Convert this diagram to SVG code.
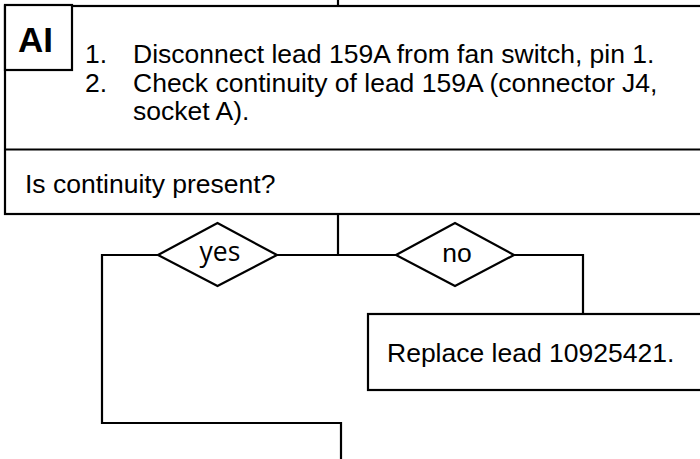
<svg xmlns="http://www.w3.org/2000/svg" width="700" height="459" viewBox="0 0 700 459">
<style>
.s{fill:none;stroke:#000;stroke-width:2.2}
.b{fill:#fff;stroke:#000;stroke-width:2.2}
.t{font-family:"Liberation Sans",Arial,sans-serif;font-size:26.5px;fill:#000}
.y{font-family:"Open Sans","Noto Sans",sans-serif;font-size:26.5px;fill:#000}
.ai{font-family:"Liberation Sans",Arial,sans-serif;font-size:35px;font-weight:bold;fill:#000}
</style>
<rect width="700" height="459" fill="#fff"/>
<g id="connectors">
<path class="s" d="M338 0V6"/>
<path class="s" d="M338 214V255"/>
<path class="s" d="M277 255H396"/>
<path class="s" d="M158 255H102V423H341V459"/>
<path class="s" d="M514 255H583V314"/>
</g>
<g id="step">
<rect class="b" x="5" y="6" width="720" height="208"/>
<path class="s" d="M5 149.5H720"/>
<text class="t" x="85" y="63">1.</text>
<text class="t" x="133" y="63">Disconnect lead 159A from fan switch, pin 1.</text>
<text class="t" x="85" y="91.5">2.</text>
<text class="t" x="133" y="91.5">Check continuity of lead 159A (connector J4,</text>
<text class="t" x="133" y="120">socket A).</text>
<text class="t" x="25" y="192.5">Is continuity present?</text>
</g>
<g id="label">
<rect class="b" x="5" y="5" width="67" height="65"/>
<text class="ai" x="18" y="52">AI</text>
</g>
<g id="yes">
<polygon class="b" points="158,255 217.5,223 277,255 217.5,286"/>
<text class="y" x="220" y="261" text-anchor="middle">yes</text>
</g>
<g id="no">
<polygon class="b" points="396,255 455,223 514,255 455,286"/>
<text class="t" x="457" y="262" text-anchor="middle">no</text>
</g>
<g id="replace">
<rect class="b" x="368" y="314" width="350" height="76"/>
<text class="t" x="387" y="362">Replace lead 10925421.</text>
</g>
</svg>
